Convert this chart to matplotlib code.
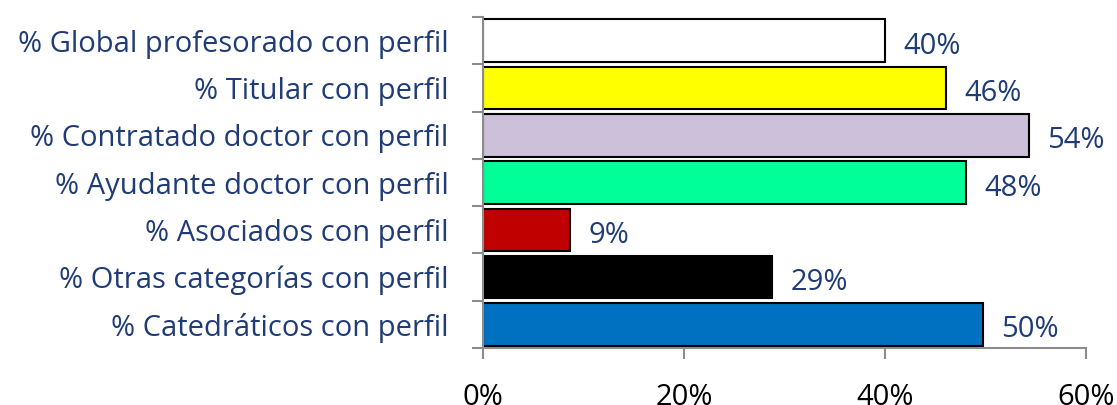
import matplotlib.pyplot as plt
import numpy as np

categories = ["% Global profesorado con perfil", "% Titular con perfil",
              "% Contratado doctor con perfil", "% Ayudante doctor con perfil",
              "% Asociados con perfil", "% Otras categorías con perfil",
              "% Catedráticos con perfil"]
values = [40.0, 46.1, 54.3, 48.1, 8.7, 28.8, 49.7]
labels = ["40%", "46%", "54%", "48%", "9%", "29%", "50%"]
colors = ["#FFFFFF", "#FFFF00", "#CCC0DA", "#00FF99", "#C00000", "#000000", "#0070C0"]
xticks = [0, 20, 40, 60]

navy = "#1F3B78"
grey = "#8C8C8C"
plt.rcParams['font.family'] = ['Open Sans', 'DejaVu Sans']

fig = plt.figure(figsize=(11.17, 4.05), dpi=100)
ax = fig.add_axes([0.4324, 0.1407, 0.5399, 0.8173])

y = np.arange(len(categories))[::-1]
ax.barh(y, values, height=0.9, color=colors, edgecolor="black", linewidth=1.5)

for yi, v, lab in zip(y, values, labels):
    ax.annotate(lab, (v, yi), xytext=(13, -4), textcoords="offset points",
                ha="left", va="center", fontsize=21, color=navy)

ax.set_xlim(0, 60)
ax.set_ylim(-0.5, len(categories) - 0.5)
ax.set_xticks(xticks)
ax.set_xticklabels([f"{t}%" for t in xticks], fontsize=21, color="black")
ax.set_yticks(y)
ax.set_yticklabels(categories, fontsize=21, color=navy)
ax.set_yticks(np.arange(len(categories) + 1) - 0.5, minor=True)

ax.tick_params(axis="y", which="major", length=0, pad=25)
ax.tick_params(axis="y", which="minor", length=8, width=1.5, color=grey)
ax.tick_params(axis="x", length=8, width=1.5, color=grey, pad=17)

for s in ["top", "right"]:
    ax.spines[s].set_visible(False)
for s in ["left", "bottom"]:
    ax.spines[s].set_color(grey)
    ax.spines[s].set_linewidth(1.5)

fig.savefig("out.png", dpi=100)
